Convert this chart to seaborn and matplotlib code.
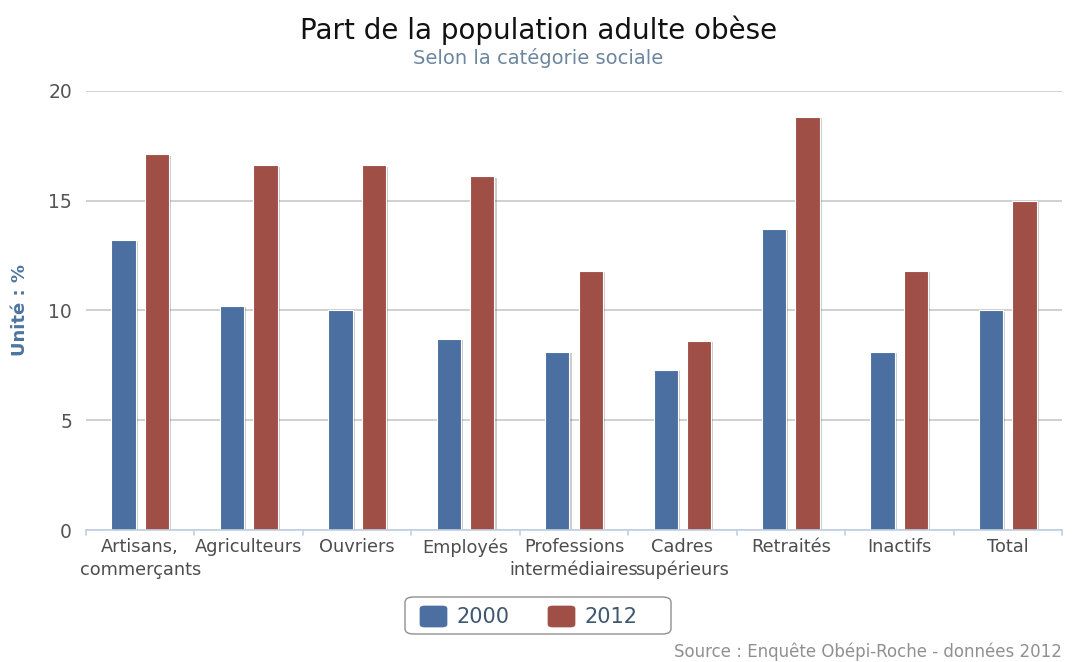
import matplotlib
matplotlib.use("Agg")
import matplotlib.pyplot as plt
import matplotlib.patheffects as pe
from matplotlib.patches import FancyBboxPatch
import seaborn as sns
import pandas as pd

categories = ["Artisans,\ncommerçants", "Agriculteurs", "Ouvriers", "Employés",
              "Professions\nintermédiaires", "Cadres\nsupérieurs", "Retraités",
              "Inactifs", "Total"]
values_2000 = [13.2, 10.2, 10.0, 8.7, 8.1, 7.3, 13.7, 8.1, 10.0]
values_2012 = [17.1, 16.6, 16.6, 16.1, 11.8, 8.6, 18.8, 11.8, 15.0]
years = ["2000", "2012"]
y_ticks = [0, 5, 10, 15, 20]

colors = {"2000": "#4A6FA0", "2012": "#A04F47"}

df = pd.DataFrame({
    "cat": categories * 2,
    "val": values_2000 + values_2012,
    "year": [years[0]] * len(categories) + [years[1]] * len(categories),
})

sns.set_theme(style="white")
plt.rcParams["font.family"] = ["DejaVu Sans"]

W, H = 1077, 662
fig = plt.figure(figsize=(W / 100, H / 100), dpi=100)
ax = fig.add_axes([86 / W, 1 - 530 / H, (1062 - 86) / W, (530 - 90.7) / H])

sns.barplot(data=df, x="cat", y="val", hue="year", palette=colors,
            width=0.616, gap=0.27, saturation=1, legend=False, ax=ax,
            edgecolor="white", linewidth=0.8, zorder=3)

shadow = [pe.SimplePatchShadow(offset=(1.5, -1.0), shadow_rgbFace="#000000", alpha=0.2),
          pe.Normal()]
for p in ax.patches:
    p.set_path_effects(shadow)

ax.set_ylim(0, 20)
ax.set_xlim(-0.5, len(categories) - 0.5)
ax.set_yticks(y_ticks)
ax.yaxis.grid(True, color="#C8C8C8", linewidth=1.2, zorder=0)
ax.xaxis.grid(False)
for s in ["top", "right", "left"]:
    ax.spines[s].set_visible(False)
ax.spines["bottom"].set_color("#C0D0E0")
ax.spines["bottom"].set_linewidth(1.2)
ax.spines["bottom"].set_zorder(4)

ax.tick_params(axis="y", length=0, labelsize=13.5, labelcolor="#555555", pad=10)
ax.set_xticks(range(len(categories)))
ax.set_xticklabels(categories, fontsize=12.8, color="#4D4D4D", linespacing=1.3)
ax.tick_params(axis="x", length=0, pad=6)
# tick marks at category boundaries
for b in range(len(categories) + 1):
    ax.plot([b - 0.5, b - 0.5], [0, -0.22], color="#C0D0E0", lw=1.2,
            clip_on=False, zorder=4)
ax.set_xlabel("")
ax.set_ylabel("Unité : %", fontsize=13, fontweight="bold", color="#4D759E")
ax.yaxis.set_label_coords((29 - 86) / (1062 - 86), 0.5)

fig.text(0.5, 1 - 30 / H, "Part de la population adulte obèse", ha="center",
         va="center", fontsize=20, color="#111111")
fig.text(0.5, 1 - 58 / H, "Selon la catégorie sociale", ha="center",
         va="center", fontsize=14, color="#6D869F")

# legend box with rounded swatches
def fx(px):
    return px / W

def fy(py):
    return 1 - py / H

box = FancyBboxPatch((fx(405), fy(634)), (671 - 405) / W, (634 - 597) / H,
                     boxstyle="round,pad=0,rounding_size=0.008",
                     transform=fig.transFigure, facecolor="white",
                     edgecolor="#909090", linewidth=1.0)
fig.patches.append(box)
swatch_x = [420, 548]
for sx, yr in zip(swatch_x, years):
    sw = FancyBboxPatch((fx(sx), fy(627)), 27 / W, 21 / H,
                        boxstyle="round,pad=0,rounding_size=0.004",
                        transform=fig.transFigure, facecolor=colors[yr],
                        edgecolor=colors[yr], linewidth=0.5)
    fig.patches.append(sw)
    fig.text(fx(sx + 36), fy(617), yr, ha="left", va="center",
             fontsize=15, color="#3E576F")

fig.text(fx(1062), fy(652), "Source : Enquête Obépi-Roche - données 2012",
         ha="right", va="center", fontsize=12, color="#909090")

fig.savefig("out.png", dpi=100, facecolor="white")
